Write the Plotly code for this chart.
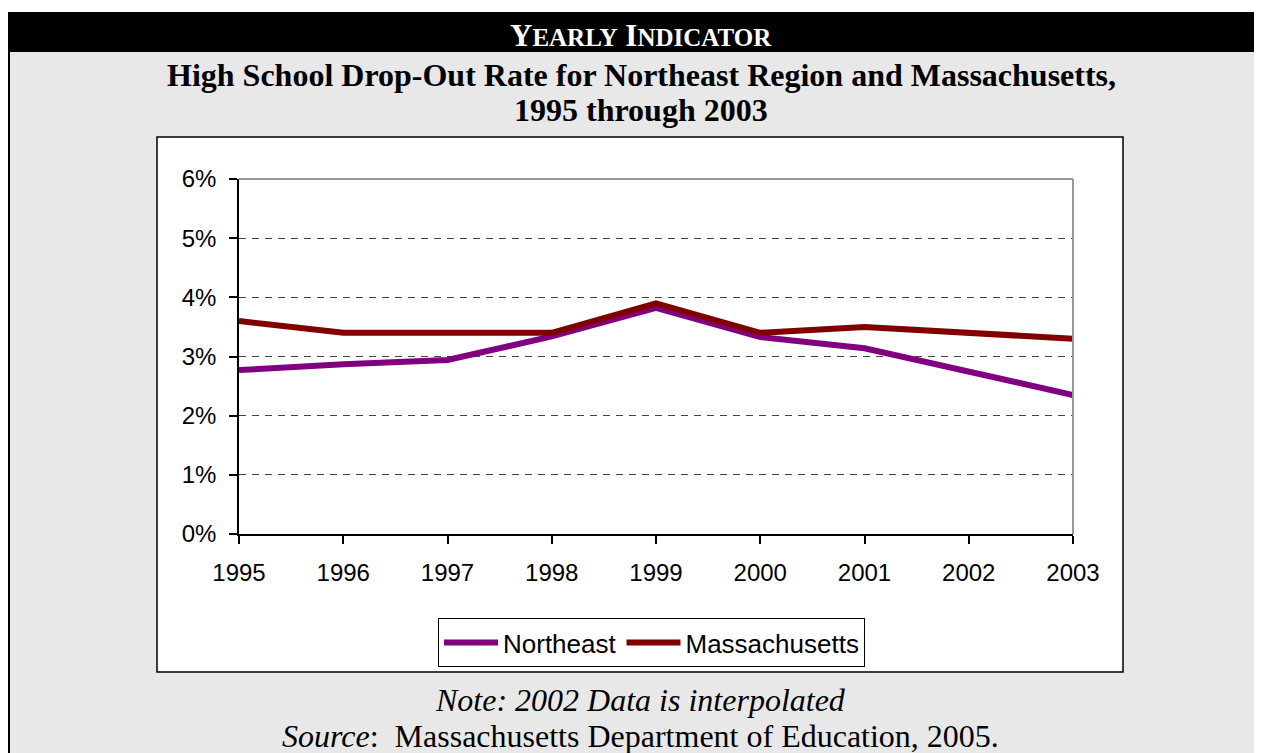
import plotly.graph_objects as go

years = [1995, 1996, 1997, 1998, 1999, 2000, 2001, 2002, 2003]
northeast = [2.77, 2.87, 2.94, 3.34, 3.82, 3.33, 3.14, 2.75, 2.35]
massachusetts = [3.6, 3.4, 3.4, 3.4, 3.9, 3.4, 3.5, 3.4, 3.3]
y_ticks = [0, 1, 2, 3, 4, 5, 6]
y_tick_text = ["0%", "1%", "2%", "3%", "4%", "5%", "6%"]

OFF = 8  # browser body margin
W, H = 1262 - OFF, 753 - OFF
# plot area in page pixels
L, R, T, B = 239, 1073, 179, 534


def px(x):
    return (x - L) / (R - L)


def py(y):
    return (B - y) / (B - T)


SERIF = "Liberation Serif, Times New Roman, serif"
SANS = "Liberation Sans, Arial, sans-serif"

fig = go.Figure()
fig.add_trace(go.Scatter(x=years, y=northeast, name="Northeast", mode="lines",
                         line=dict(color="#800080", width=6), cliponaxis=False))
fig.add_trace(go.Scatter(x=years, y=massachusetts, name="Massachusetts", mode="lines",
                         line=dict(color="#800000", width=6), cliponaxis=False))

shapes = [
    dict(type="rect", xref="paper", yref="paper", x0=px(8), x1=px(1280), y0=py(52), y1=py(780),
         fillcolor="#E8E8E8", line=dict(width=0), layer="below"),
    dict(type="rect", xref="paper", yref="paper", x0=px(8), x1=px(1280), y0=py(12), y1=py(52),
         fillcolor="black", line=dict(width=0), layer="below"),
    dict(type="line", xref="paper", yref="paper", x0=px(9), x1=px(9), y0=py(12), y1=py(780),
         line=dict(color="black", width=2), layer="below"),
    dict(type="rect", xref="paper", yref="paper", x0=px(157), x1=px(1123), y0=py(137), y1=py(672),
         fillcolor="white", line=dict(color="black", width=1.5), layer="below"),
    dict(type="line", xref="paper", yref="paper", x0=0, x1=1, y0=1, y1=1,
         line=dict(color="#999999", width=2), layer="above"),
    dict(type="line", xref="paper", yref="paper", x0=1, x1=1, y0=0, y1=1,
         line=dict(color="#999999", width=2), layer="above"),
]

annotations = [
    dict(text="Y<span style='font-size:25px'>EARLY</span> I<span style='font-size:25px'>NDICATOR</span>",
         x=px(641), y=py(35), xref="paper", yref="paper", showarrow=False,
         xanchor="center", yanchor="middle",
         font=dict(family=SERIF, size=31, color="white", weight="bold")),
    dict(text="<b>High School Drop-Out Rate for Northeast Region and Massachusetts,</b>",
         x=px(641), y=py(75), xref="paper", yref="paper", showarrow=False,
         xanchor="center", yanchor="middle",
         font=dict(family=SERIF, size=32, color="black")),
    dict(text="<b>1995 through 2003</b>",
         x=px(641), y=py(110), xref="paper", yref="paper", showarrow=False,
         xanchor="center", yanchor="middle",
         font=dict(family=SERIF, size=32, color="black")),
    dict(text="<i>Note: 2002 Data is interpolated</i>",
         x=px(640), y=py(700), xref="paper", yref="paper", showarrow=False,
         xanchor="center", yanchor="middle",
         font=dict(family=SERIF, size=32, color="black")),
    dict(text="<i>Source</i>:  Massachusetts Department of Education, 2005.",
         x=px(640), y=py(736), xref="paper", yref="paper", showarrow=False,
         xanchor="center", yanchor="middle",
         font=dict(family=SERIF, size=32, color="black")),
]

fig.update_layout(
    width=W, height=H, autosize=False,
    margin=dict(l=L - OFF, r=W - (R - OFF), t=T - OFF, b=H - (B - OFF), pad=0),
    paper_bgcolor="white",
    plot_bgcolor="rgba(0,0,0,0)",
    shapes=shapes,
    annotations=annotations,
    showlegend=True,
    legend=dict(orientation="h", x=px(438), y=py(618), xanchor="left", yanchor="top",
                bgcolor="white", bordercolor="black", borderwidth=1,
                font=dict(family=SANS, size=26, color="black"),
                itemwidth=54, tracegroupgap=0),
    xaxis=dict(range=[1995, 2003], tickmode="array", tickvals=years,
               ticktext=[str(y) for y in years],
               showline=True, linecolor="black", linewidth=1.5,
               ticks="outside", ticklen=8, tickcolor="black", tickwidth=1.5,
               showgrid=False, zeroline=False,
               tickfont=dict(family=SANS, size=24, color="black"),
               ticklabelstandoff=8),
    yaxis=dict(range=[0, 6], tickmode="array", tickvals=y_ticks, ticktext=y_tick_text,
               showline=True, linecolor="black", linewidth=1.5,
               ticks="outside", ticklen=8, tickcolor="black", tickwidth=1.5,
               showgrid=True, gridcolor="#444444", gridwidth=1, griddash="7px,6px",
               zeroline=False,
               tickfont=dict(family=SANS, size=24, color="black"),
               ticklabelstandoff=8),
)

fig.write_html("out.html")
